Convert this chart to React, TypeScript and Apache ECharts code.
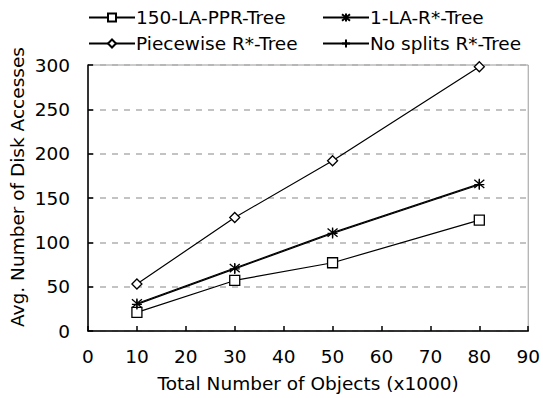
import React, { useEffect, useRef } from "react";
import * as echarts from "echarts";

const xValues = [10, 30, 50, 80];
const pprTree = [21, 57, 77, 125];
const laRTree = [31, 71, 111, 166];
const piecewise = [53, 128, 192, 298];
const noSplits = [30, 70, 110, 165];
const seriesNames = ["150-LA-PPR-Tree", "1-LA-R*-Tree", "Piecewise R*-Tree", "No splits R*-Tree"];

const FONT = "'DejaVu Sans', Verdana, sans-serif";
const FS = 18.5;
const STAR = "path://M0,0 L10,10 M10,0 L0,10 M5,-1 L5,11";
const PLUS = "path://M5,0 L5,10 M0,5 L10,5";

export default function App() {
  const ref = useRef<HTMLDivElement>(null);
  useEffect(() => {
    if (!ref.current) return;
    const chart = echarts.init(ref.current, undefined, { renderer: "svg" });
    const pair = (ys: number[]) => xValues.map((x, i) => [x, ys[i]]);
    const mkSeries = (name: string, ys: number[], symbol: string, size: number, fill: string) => ({
      name,
      type: "line",
      data: pair(ys),
      symbol,
      symbolSize: size,
      showSymbol: true,
      lineStyle: { color: "#000", width: 1.2 },
      itemStyle: { color: fill, borderColor: "#000", borderWidth: 1.3 },
      emphasis: { disabled: true },
      z: 3,
    });
    const legendBase = {
      orient: "horizontal",
      itemWidth: 46,
      itemHeight: 10,
      itemGap: 0,
      selectedMode: false,
      textStyle: { fontFamily: FONT, fontSize: FS, color: "#000", fontWeight: "normal", padding: [0, 0, 0, -4] },
    };
    chart.setOption({
      animation: false,
      backgroundColor: "#fff",
      textStyle: { fontFamily: FONT },
      legend: [
        { ...legendBase, data: [seriesNames[0]], left: 83, top: 3 },
        { ...legendBase, data: [seriesNames[1]], left: 317, top: 3 },
        { ...legendBase, data: [seriesNames[2]], left: 83, top: 29 },
        { ...legendBase, data: [seriesNames[3]], left: 317, top: 29 },
      ],
      grid: {
        left: 88,
        right: 11,
        top: 65,
        bottom: 67,
        show: true,
        borderColor: "#9a9a9a",
        borderWidth: 1,
        backgroundColor: "transparent",
      },
      xAxis: {
        type: "value",
        min: 0,
        max: 90,
        interval: 10,
        name: "Total Number of Objects (x1000)",
        nameLocation: "middle",
        nameGap: 43,
        nameTextStyle: { fontFamily: FONT, fontSize: FS, color: "#000" },
        axisLine: { show: true, lineStyle: { color: "#000", width: 1.5 } },
        axisTick: { show: true, inside: true, length: 5, lineStyle: { color: "#000", width: 1.5 } },
        axisLabel: { fontFamily: FONT, fontSize: FS, color: "#000", margin: 16 },
        splitLine: { show: false },
      },
      yAxis: {
        type: "value",
        min: 0,
        max: 300,
        interval: 50,
        axisLine: { show: true, lineStyle: { color: "#000", width: 1.5 } },
        axisTick: { show: true, inside: true, length: 5, lineStyle: { color: "#000", width: 1.5 } },
        axisLabel: { fontFamily: FONT, fontSize: FS, color: "#000", margin: 18 },
        splitLine: { show: true, lineStyle: { color: "#b0b0b0", type: [6, 6], width: 1.5 } },
      },
      graphic: [
        {
          type: "text",
          x: 17,
          y: 187,
          rotation: Math.PI / 2,
          style: {
            text: "Avg. Number of Disk Accesses",
            fontFamily: FONT,
            fontSize: FS,
            fill: "#000",
            textAlign: "center",
            textVerticalAlign: "middle",
          },
        },
      ],
      series: [
        mkSeries(seriesNames[0], pprTree, "rect", 10, "#fff"),
        mkSeries(seriesNames[1], laRTree, STAR, 10, "#000"),
        mkSeries(seriesNames[2], piecewise, "diamond", 10, "#fff"),
        mkSeries(seriesNames[3], noSplits, PLUS, 10, "#000"),
      ],
    });
    return () => chart.dispose();
  }, []);
  return <div ref={ref} style={{ width: 543, height: 398, position: "absolute", left: 0, top: 0 }} />;
}
